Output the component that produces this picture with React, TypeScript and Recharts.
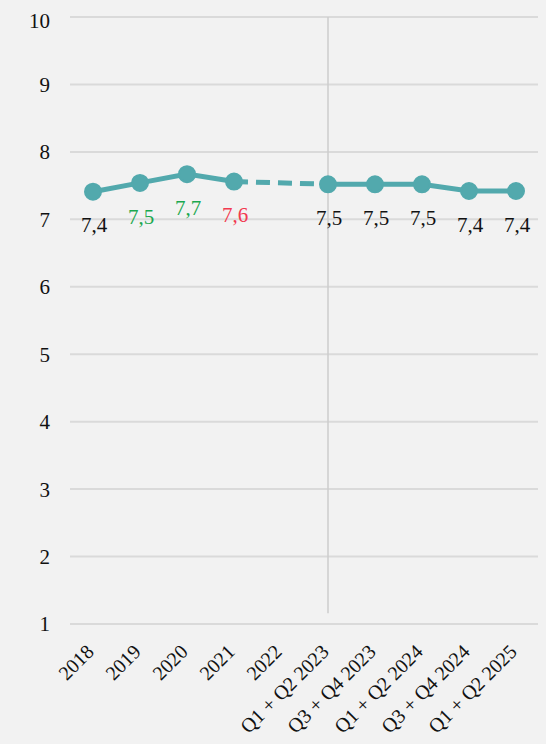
import React from "react";
import {
  LineChart,
  Line,
  XAxis,
  YAxis,
  CartesianGrid,
  ReferenceLine,
  LabelList,
} from "recharts";

const periods = [
  "2018",
  "2019",
  "2020",
  "2021",
  "2022",
  "Q1 + Q2 2023",
  "Q3 + Q4 2023",
  "Q1 + Q2 2024",
  "Q3 + Q4 2024",
  "Q1 + Q2 2025",
];

// solid line (gap for 2022)
const scores: (number | null)[] = [
  7.41, 7.54, 7.67, 7.56, null, 7.52, 7.52, 7.52, 7.42, 7.42,
];

// dashed bridge over 2022
const bridge: (number | null)[] = [
  null, null, null, 7.56, null, 7.52, null, null, null, null,
];

const labelColors = [
  "#111111",
  "#1aa84f",
  "#1aa84f",
  "#f23a50",
  "#111111",
  "#111111",
  "#111111",
  "#111111",
  "#111111",
  "#111111",
];

const yTicks = [1, 2, 3, 4, 5, 6, 7, 8, 9, 10];

const data = periods.map((period, i) => ({
  period,
  score: scores[i],
  bridge: bridge[i],
}));

const FONT = '"Liberation Serif", serif';
const TEAL = "#52a9ad";

const ValueLabel = (props: any) => {
  const { x, y, value, index } = props;
  if (value == null) return null;
  return (
    <text
      x={x + 1}
      y={y + 36}
      textAnchor="middle"
      dominantBaseline="middle"
      fontFamily={FONT}
      fontSize={21}
      fill={labelColors[index]}
    >
      {Number(value).toFixed(1).replace(".", ",")}
    </text>
  );
};

const SlantTick = (props: any) => {
  const { x, y, payload } = props;
  const tx = x + 2;
  const ty = y + 21;
  return (
    <text
      x={tx}
      y={ty}
      transform={`rotate(-45, ${tx}, ${ty})`}
      textAnchor="end"
      fontFamily={FONT}
      fontSize={20}
      fill="#111111"
    >
      {payload.value}
    </text>
  );
};

export default function App() {
  return (
    <div>
      <style>{`body{background:#f2f2f2;}`}</style>
      <LineChart
        width={538}
        height={736}
        data={data}
        margin={{ top: 9, right: 7, left: 0, bottom: 10 }}
      >
        <CartesianGrid vertical={false} stroke="#dadada" strokeWidth={2} />
        <XAxis
          dataKey="period"
          interval={0}
          tickLine={false}
          axisLine={false}
          height={110}
          padding={{ left: 23, right: 23 }}
          tick={<SlantTick />}
        />
        <YAxis
          domain={[1, 10]}
          ticks={yTicks}
          width={62}
          tickLine={false}
          axisLine={false}
          tickMargin={14}
          tick={{ fill: "#111111", fontFamily: FONT, fontSize: 21 }}
        />
        <ReferenceLine
          segment={[
            { x: "Q1 + Q2 2023", y: 10 },
            { x: "Q1 + Q2 2023", y: 1.16 },
          ]}
          stroke="#cdcdcd"
          strokeWidth={1.5}
        />
        <Line
          dataKey="bridge"
          stroke={TEAL}
          strokeWidth={5}
          strokeDasharray="14 8"
          connectNulls
          dot={false}
          activeDot={false}
          isAnimationActive={false}
        />
        <Line
          dataKey="score"
          stroke={TEAL}
          strokeWidth={5}
          dot={{ r: 8, fill: TEAL, stroke: TEAL, strokeWidth: 2 }}
          activeDot={false}
          isAnimationActive={false}
        >
          <LabelList dataKey="score" content={ValueLabel} />
        </Line>
      </LineChart>
    </div>
  );
}
